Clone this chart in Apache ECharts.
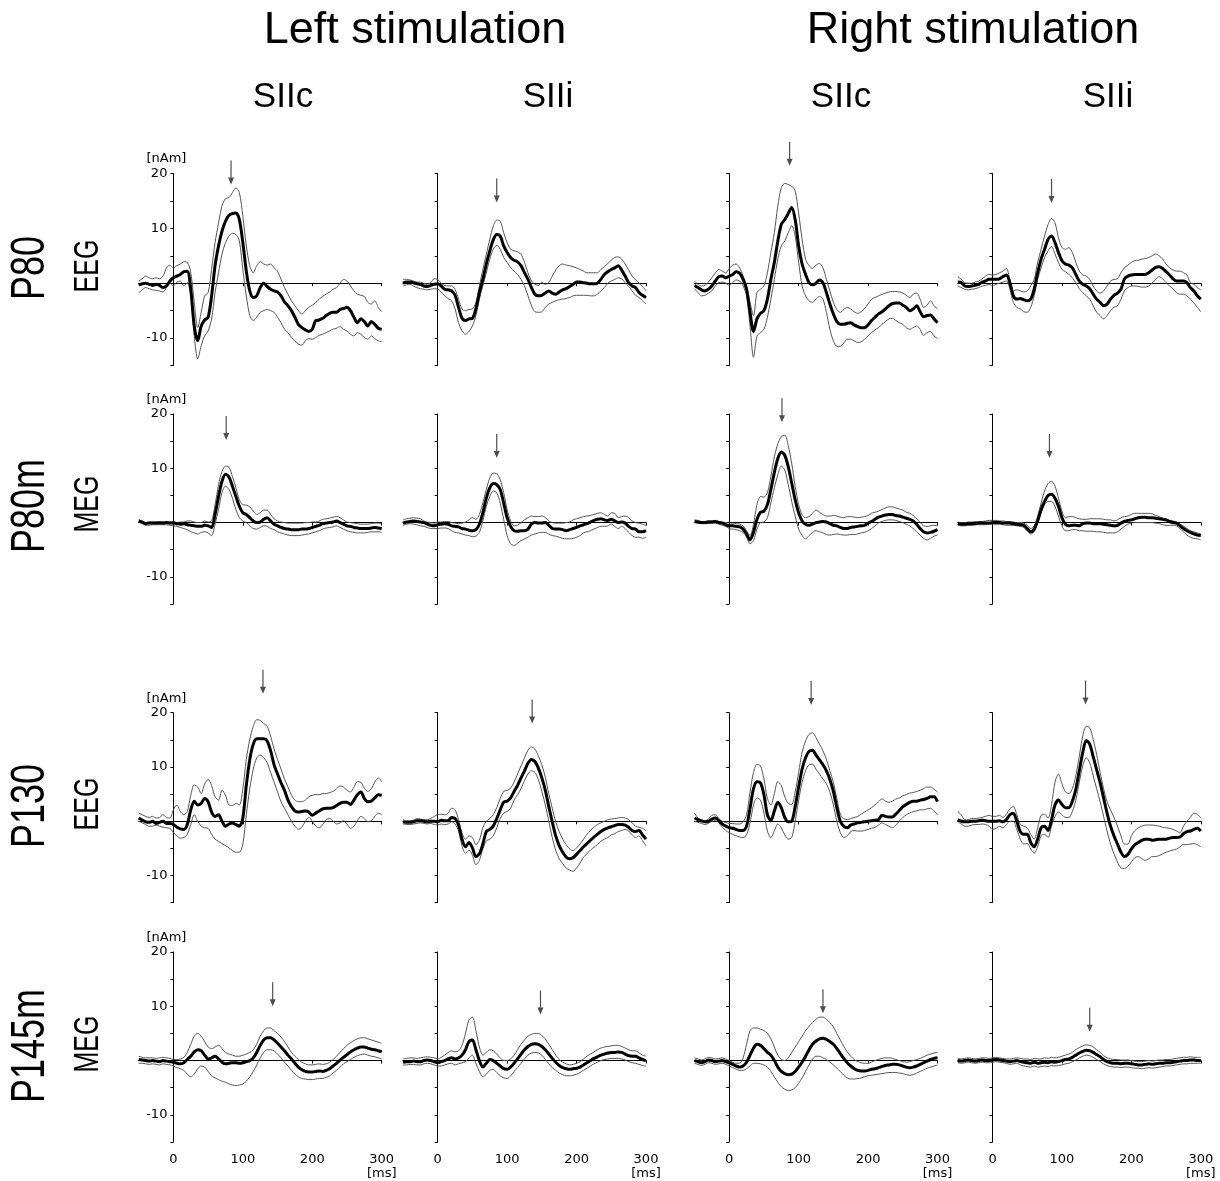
<!DOCTYPE html>
<html><head><meta charset="utf-8">
<script src="https://cdn.jsdelivr.net/npm/echarts@6/dist/echarts.min.js"></script>
<style>html,body{margin:0;padding:0;background:#fff}#c{width:1220px;height:1181px}</style>
</head><body><div id="c"></div>
<script>
// time axis (ms)
const times = [-50,-45,-40,-35,-30,-25,-20,-15,-10,-5,0,5,10,15,20,25,30,35,40,45,50,55,60,65,70,75,80,85,90,95,100,105,110,115,120,125,130,135,140,145,150,155,160,165,170,175,180,185,190,195,200,205,210,215,220,225,230,235,240,245,250,255,260,265,270,275,280,285,290,295,300];
const xTickValues = [0,100,200,300];
const yLabelValues = [20,10,-10];
const colTitles = ['SIIc','SIIi','SIIc','SIIi'];
const groupTitles = ['Left stimulation','Right stimulation'];
const rowNames = ['P80','P80m','P130','P145m'];
const rowModes = ['EEG','MEG','EEG','MEG'];

// Row 1: P80 EEG
const r1c1_mean = [-0.3,-0.1,0,-0.2,-0.4,-0.2,-0.4,-0.8,-0.5,0.4,1.0,1.3,1.6,2.1,2.2,-1.1,-7.8,-10.5,-7.8,-6.7,-6.2,-2.3,3.2,6.8,9.5,11.3,12.4,12.7,12.8,11.6,7.4,2.2,-1.4,-2.6,-2.3,-0.8,0,-0.6,-1.1,-1.4,-1.6,-2.3,-3.4,-4.1,-5.0,-6.2,-7.5,-8.1,-8.5,-8.8,-8.4,-6.8,-6.7,-6.4,-5.9,-5.5,-5.3,-5.3,-4.8,-4.6,-4.4,-5.0,-6.2,-7.2,-6.5,-7.0,-7.8,-7.0,-7.5,-8.2,-8.4];
const r1c1_upper = [0.4,0.8,1.3,1.0,0.8,1.0,0.8,1.3,2.8,3.3,2.8,3.2,3.5,3.9,3.8,1.9,-3.5,-8.1,-5.3,-2.3,-1.7,2.5,7.4,11.0,14.1,15.4,15.6,16.5,17.4,16.5,12.2,6.8,3.2,1.9,3.2,3.9,3.5,3.3,3.5,2.8,2.2,0.7,-0.8,-2.0,-3.2,-4.1,-5.0,-5.6,-5.0,-4.4,-4.0,-3.5,-2.9,-2.4,-2.0,-1.6,-1.1,-0.8,0,0.7,0.4,-0.5,-1.4,-2.0,-2.2,-2.4,-3.5,-3.8,-3.2,-4.4,-5.2];
const r1c1_lower = [-1.8,-1.2,-0.8,-1.0,-1.2,-1.3,-1.4,-1.6,-0.8,0,-0.5,0.2,0.4,-0.5,0.1,-2.3,-9.6,-13.8,-11.4,-9.6,-8.7,-6.5,-1.7,1.9,5.3,7.4,8.6,9.1,8.9,7.7,2.5,-2.3,-5.9,-6.8,-6.2,-5.3,-5.0,-4.8,-5.0,-5.3,-6.2,-7.2,-8.4,-9.0,-9.9,-10.5,-11.1,-11.3,-10.5,-10.1,-10.2,-9.9,-9.5,-9.3,-9.0,-8.7,-8.4,-8.2,-7.9,-8.4,-8.7,-9.3,-9.6,-9.0,-9.3,-9.9,-10.2,-9.6,-10.1,-10.5,-10.7];

const r1c2_mean = [0,0.2,0.2,0.1,-0.1,-0.2,-0.5,-0.6,-0.4,-0.2,-0.1,-0.5,-1.1,-1.2,-1.4,-2.2,-4.4,-6.4,-6.8,-6.5,-6.4,-4.7,-1.7,0.7,3.5,5.9,7.9,8.9,8.6,6.8,5.6,4.7,4.2,3.9,3.2,1.9,0.7,-0.8,-2.0,-2.3,-2.2,-1.8,-1.4,-1.8,-2.0,-1.6,-1.2,-1.0,-0.6,-0.2,0.2,0.2,0.1,0,-0.1,-0.1,0,0.7,1.6,2.1,2.5,2.8,3.2,2.4,1.3,0.1,-0.5,-0.8,-1.7,-2.2,-2.6];
const r1c2_upper = [0.7,0.7,0.6,0.4,0.2,0.2,0,-0.2,0.1,0.8,0.7,0,-0.4,-0.5,-0.5,-1.1,-2.9,-4.7,-5.0,-4.8,-4.7,-3.5,-0.5,2.5,5.3,8.0,10.4,11.5,11.3,9.2,7.4,6.2,5.9,5.7,5.3,3.8,1.9,0.4,-0.2,-0.4,0.2,-0.2,0.1,1.3,2.4,3.2,3.5,3.3,3.2,3.0,2.8,2.5,2.2,1.9,1.9,1.9,1.9,2.5,3.0,3.6,4.2,4.7,4.8,4.4,3.5,2.4,1.3,0.6,0,-0.6,-1.4];
const r1c2_lower = [-0.5,-0.3,-0.2,-0.5,-0.8,-1.0,-1.1,-1.2,-1.1,-1.0,-1.1,-1.6,-2.3,-2.8,-3.2,-4.7,-7.2,-8.7,-9.3,-8.8,-7.8,-5.9,-2.9,-0.5,1.9,4.4,6.2,6.9,6.2,4.7,3.8,2.8,2.2,1.6,0.7,-0.5,-2.3,-4.1,-5.2,-5.3,-5.2,-4.4,-3.8,-3.5,-3.2,-3.0,-2.9,-2.8,-2.6,-2.3,-2.2,-2.2,-2.2,-2.2,-2.3,-2.3,-2.0,-1.4,-0.8,0,0.4,0.7,1.0,0.8,0.1,-0.6,-1.4,-2.2,-2.6,-3.2,-3.8];

const r1c3_mean = [-0.4,-0.8,-1.2,-1.4,-1.1,-0.5,0.4,1.2,1.3,1.0,1.3,1.6,2.1,1.8,0.7,-1.1,-5.3,-8.8,-6.5,-5.5,-5.0,-2.9,0.7,3.8,7.7,10.7,11.6,12.7,13.8,11.6,6.8,3.5,1.6,0.1,-0.3,0,0.6,0.1,-1.7,-3.8,-5.6,-7.0,-7.5,-7.5,-7.3,-7.2,-7.6,-7.9,-8.1,-8.1,-7.6,-6.8,-6.2,-5.6,-5.2,-4.7,-4.1,-3.7,-3.6,-3.6,-4.0,-4.4,-5.0,-4.7,-4.1,-5.2,-6.1,-5.9,-5.8,-6.5,-7.2];
const r1c3_upper = [0.4,-0.2,-0.5,-0.4,0.2,1.0,1.9,2.5,2.2,1.9,2.7,3.3,3.5,2.8,1.3,-0.5,-3.5,-5.9,-1.7,-1.1,-0.5,1.9,5.6,9.2,14.1,17.4,18.2,18.0,17.7,16.8,12.8,8.0,4.4,3.2,2.7,3.3,3.6,2.8,0.7,-1.4,-3.5,-4.8,-5.3,-4.8,-4.4,-4.7,-5.2,-5.5,-5.2,-4.6,-3.8,-2.9,-2.6,-2.3,-2.0,-1.8,-1.6,-1.5,-1.5,-1.6,-1.8,-2.2,-2.6,-2.0,-1.8,-2.9,-4.4,-4.0,-3.2,-4.1,-4.7];
const r1c3_lower = [-1.0,-1.7,-2.3,-2.2,-1.8,-1.4,-0.5,0.1,0.2,0,-0.4,0.1,0.6,0.4,-0.5,-2.3,-7.8,-13.5,-9.6,-9.0,-8.4,-6.2,-2.9,0.7,4.4,6.8,7.7,9.2,10.5,8.6,3.8,-0.5,-2.3,-3.2,-3.5,-2.9,-2.4,-2.9,-5.3,-8.4,-10.5,-11.5,-11.5,-10.9,-10.2,-10.2,-10.5,-10.8,-10.7,-10.2,-9.6,-9.0,-8.5,-8.1,-7.5,-7.0,-6.5,-6.4,-6.8,-7.2,-7.5,-8.1,-8.4,-8.1,-7.8,-8.4,-9.5,-9.0,-8.8,-9.6,-10.1];

const r1c4_mean = [0.2,0.1,-0.5,-0.6,-0.5,-0.4,-0.2,0.2,0.4,0.7,0.7,0.7,0.8,1.2,1.5,0.1,-2.3,-2.9,-2.8,-3.0,-3.2,-2.9,-1.1,1.9,4.4,6.2,8.0,8.6,7.4,5.6,4.1,3.5,3.3,2.8,1.6,0.4,-0.2,-0.5,-1.0,-2.0,-2.9,-3.5,-4.1,-3.8,-2.9,-2.2,-1.8,-1.1,0.8,1.3,1.5,1.6,1.6,1.6,1.6,1.9,2.4,2.9,3.0,2.7,2.1,1.5,0.8,0.4,0.4,0.4,0.1,-0.8,-1.4,-2.3,-2.9];
const r1c4_upper = [1.2,0.7,0.1,0,0,0.2,0.4,0.8,1.3,1.6,1.5,1.6,1.9,2.2,2.7,0.7,-1.4,-1.2,-1.4,-1.6,-1.4,-0.5,0.7,3.8,6.2,8.6,10.7,11.8,11.0,8.3,6.5,6.2,6.5,5.6,3.8,2.2,1.5,1.3,0.7,-0.5,-1.4,-1.8,-1.4,-0.5,0.4,0.7,0.8,1.9,2.8,3.3,3.8,4.1,4.2,4.4,4.5,4.7,5.0,5.3,5.0,4.4,3.5,2.8,2.4,2.2,2.2,1.9,1.5,0.1,-0.2,-0.8,-1.2];
const r1c4_lower = [-0.5,-0.8,-1.1,-1.2,-1.1,-1.0,-0.8,-0.5,-0.4,-0.2,-0.5,-0.2,0,0.2,0.4,-1.1,-3.5,-4.4,-4.7,-5.2,-5.3,-4.4,-2.3,0.7,2.8,4.7,5.9,6.7,5.3,3.8,2.5,2.1,1.6,1.0,0.1,-1.0,-1.7,-2.3,-2.9,-4.1,-5.3,-5.9,-6.5,-5.9,-5.0,-4.4,-4.1,-2.9,-1.4,-0.8,-0.5,-0.5,-0.6,-0.7,-0.7,-0.5,0,0.7,1.2,0.8,0.1,-0.5,-1.0,-1.7,-2.0,-2.0,-2.3,-2.9,-3.6,-4.4,-5.2];

// Row 2: P80m MEG
const r2c1_mean = [0.3,0.1,-0.2,-0.1,-0.1,-0.1,-0.1,-0.1,0,-0.1,-0.1,-0.2,-0.3,-0.2,-0.4,-0.5,-0.6,-0.7,-0.7,-0.5,-0.6,-0.9,1.5,4.8,7.6,8.9,8.4,6.7,4.8,3.0,1.8,1.5,0.9,0.3,0,0.1,0.6,0.9,0.3,-0.3,-0.6,-0.9,-1.1,-1.2,-1.3,-1.3,-1.3,-1.2,-1.2,-1.1,-0.9,-0.7,-0.5,-0.2,-0.1,0,0.1,0.3,0,-0.3,-0.6,-0.7,-0.9,-1.0,-1.1,-1.1,-1.1,-1.0,-0.9,-1.0,-1.1];
const r2c1_upper = [0.5,0.3,0,0.1,0.1,0.1,0.2,0.1,0.2,0.1,0.2,0,0.1,0.1,0.3,0.3,0.1,0,0,0.3,0.1,0.3,3.3,7.0,9.4,10.4,10.2,8.5,6.4,4.2,3.3,3.2,2.9,2.1,1.5,1.8,2.3,2.3,1.5,0.7,0.3,0.1,0,-0.1,-0.1,-0.1,-0.1,-0.1,0,0,0.1,0.1,0.3,0.6,0.7,0.8,1.0,1.1,0.9,0.5,0.1,0,-0.1,-0.2,-0.3,-0.3,-0.3,-0.2,-0.1,-0.1,-0.3];
const r2c1_lower = [0.1,-0.2,-0.5,-0.5,-0.4,-0.4,-0.4,-0.4,-0.4,-0.5,-0.6,-0.7,-0.9,-1.1,-1.3,-1.7,-1.9,-2.1,-1.8,-1.7,-1.9,-2.4,-0.3,2.4,5.5,6.7,6.1,4.5,2.4,0.9,0.3,0,-0.6,-1.1,-1.2,-0.9,-0.6,-0.7,-1.1,-1.3,-1.7,-1.9,-2.1,-2.3,-2.4,-2.4,-2.4,-2.3,-2.2,-2.1,-1.9,-1.7,-1.5,-1.2,-1.0,-0.9,-0.8,-0.6,-0.9,-1.2,-1.5,-1.7,-1.8,-1.9,-1.9,-1.9,-1.8,-1.7,-1.7,-1.7,-1.8];

const r2c2_mean = [-0.1,0.1,0.2,0.3,0.2,0.1,0,-0.3,-0.5,-0.6,-0.4,-0.3,-0.2,-0.3,-0.6,-0.7,-0.8,-1.1,-1.2,-1.4,-1.5,-1.3,-0.3,1.8,4.5,6.4,7.2,7.0,6.1,3.6,0.9,-0.7,-1.5,-1.6,-1.5,-1.5,-1.2,-0.3,0,-0.1,-0.1,0,-0.5,-1.1,-1.2,-1.2,-1.3,-1.5,-1.3,-1.1,-0.9,-0.6,-0.4,-0.2,0.1,0.4,0.6,0.7,0.5,0.4,0.6,0.3,0,0.1,-0.1,-0.7,-1.1,-1.2,-1.7,-1.7,-1.5];
const r2c2_upper = [0.5,0.7,0.8,0.9,0.8,0.7,0.3,0.1,0,-0.1,0.1,0.1,0.2,0.2,0,-0.1,-0.2,-0.1,0.1,0.5,0.9,0.6,1.5,3.6,6.1,8.2,9.1,9.0,7.9,5.5,2.4,0.3,-0.6,-0.5,0,0.5,0.9,1.2,1.1,1.1,1.2,0.9,0.3,0,-0.1,-0.1,-0.1,0,0.1,0.5,0.7,0.9,1.1,1.2,1.3,1.5,1.7,1.8,1.5,1.2,1.8,1.7,0.9,1.1,1.2,0.9,0.3,0,-0.1,-0.3,-0.5];
const r2c2_lower = [-0.5,-0.3,-0.2,-0.3,-0.4,-0.6,-0.7,-0.9,-1.1,-1.1,-1.1,-1.0,-1.0,-1.1,-1.5,-1.8,-1.9,-2.1,-2.3,-2.4,-2.6,-2.5,-1.8,0.3,3.0,4.8,5.8,5.5,3.6,0.6,-2.4,-3.9,-4.2,-3.8,-3.3,-3.0,-2.7,-2.3,-2.1,-1.9,-1.8,-1.8,-2.1,-2.4,-2.5,-2.7,-2.9,-3.0,-3.0,-2.9,-2.7,-2.4,-1.9,-1.7,-1.5,-1.2,-0.9,-0.7,-0.7,-0.6,-0.3,-0.7,-1.1,-0.7,-1.1,-1.8,-2.4,-2.7,-2.7,-2.9,-2.7];

const r2c3_mean = [0.2,0.1,0,0,0.1,0.1,0.2,0,-0.1,-0.4,-0.6,-0.6,-0.7,-0.8,-1.2,-2.1,-3.2,-1.8,0.6,1.9,2.1,3.3,6.1,9.2,11.8,13.0,12.4,10.3,7.3,4.2,1.8,0.3,-0.3,-0.5,-0.3,0,0.1,0.2,0.1,-0.2,-0.5,-0.6,-0.9,-1.1,-1.1,-0.9,-0.8,-0.7,-0.6,-0.5,-0.1,0.2,0.6,1.0,1.2,1.4,1.5,1.5,1.3,1.2,1.0,0.8,0.6,0.3,-0.3,-1.1,-1.7,-1.9,-1.8,-1.6,-1.3];
const r2c3_upper = [0.5,0.4,0.2,0.2,0.3,0.3,0.4,0.2,0.1,0,-0.1,-0.1,-0.2,-0.3,-0.6,-1.5,-2.4,-0.3,3.3,4.8,4.7,5.5,8.5,12.1,14.5,15.8,16.1,14.2,10.9,6.7,3.3,1.5,0.9,1.1,1.7,2.3,1.9,1.5,1.2,1.2,1.3,1.2,1.0,0.9,1.1,1.1,1.0,0.9,1.0,1.1,1.3,1.7,1.9,2.1,2.4,2.7,2.9,2.9,2.7,2.5,2.3,1.9,1.7,1.3,0.7,0,-0.6,-0.7,-0.6,-0.5,-0.6];
const r2c3_lower = [0,-0.1,-0.2,-0.2,-0.2,-0.1,-0.1,-0.3,-0.5,-0.7,-1.1,-1.2,-1.3,-1.5,-1.8,-2.7,-3.9,-3.3,-1.2,0,0.1,0.9,3.6,6.4,8.8,10.4,9.7,7.0,3.9,1.2,-1.2,-2.4,-3.0,-2.4,-1.8,-1.5,-1.7,-1.9,-2.2,-2.3,-2.2,-2.1,-2.2,-2.3,-2.3,-2.2,-2.2,-2.1,-1.9,-1.8,-1.5,-1.1,-0.6,-0.1,0.2,0.4,0.5,0.5,0.4,0.2,0,-0.3,-0.6,-1.1,-1.7,-2.3,-2.9,-3.2,-2.9,-2.5,-2.3];

const r2c4_mean = [-0.2,-0.3,-0.3,-0.2,-0.2,-0.2,-0.1,-0.1,-0.1,-0.1,0,0,0,-0.1,-0.1,-0.1,-0.2,-0.3,-0.4,-0.5,-1.1,-1.7,-1.2,0.3,2.4,3.9,5.0,5.2,4.5,3.0,0.9,-0.3,-0.6,-0.5,-0.5,-0.6,-0.2,-0.1,-0.1,-0.2,-0.2,-0.2,-0.3,-0.4,-0.5,-0.6,-0.5,-0.1,0.2,0.4,0.5,0.7,0.9,1.0,1.0,0.9,0.9,0.8,0.7,0.6,0.5,0.2,0,-0.1,-0.6,-1.1,-1.5,-1.8,-2.1,-2.3,-2.4];
const r2c4_upper = [0.1,0,0,0.1,0.1,0.2,0.2,0.2,0.3,0.4,0.4,0.4,0.3,0.3,0.2,0.2,0.1,0,0,-0.1,-0.5,-1.1,-0.6,1.2,3.6,5.8,7.2,7.6,6.7,4.5,2.1,0.9,1.1,1.1,0.9,0.7,0.6,0.6,0.7,0.7,0.7,0.7,0.6,0.5,0.5,0.3,0.5,0.9,1.1,1.2,1.5,1.7,1.7,1.7,1.7,1.7,1.6,1.3,1.1,0.8,0.6,0.4,0.3,0.1,-0.3,-0.6,-1.1,-1.5,-1.7,-1.9,-2.1];
const r2c4_lower = [-0.5,-0.6,-0.6,-0.5,-0.5,-0.4,-0.4,-0.4,-0.4,-0.3,-0.3,-0.3,-0.3,-0.4,-0.5,-0.5,-0.5,-0.6,-0.7,-0.9,-1.5,-2.1,-1.7,0,1.8,3.3,3.9,3.9,3.0,1.2,-0.6,-1.5,-1.5,-1.3,-1.3,-1.5,-1.5,-1.6,-1.6,-1.6,-1.7,-1.7,-1.8,-1.9,-1.9,-1.9,-1.7,-1.2,-0.7,-0.3,-0.1,0,0,0,0,0,0,-0.1,-0.2,-0.4,-0.5,-0.5,-0.5,-0.6,-1.1,-1.7,-2.3,-2.7,-2.9,-3.0,-3.2];

// Row 3: P130 EEG
const r3c1_mean = [0.6,0.2,-0.1,-0.2,0,-0.4,-0.2,0,-0.4,-0.4,-0.6,-1.1,-1.4,-1.5,-0.6,2.1,3.7,3.0,3.3,4.2,3.6,1.7,0.9,1.2,0,-0.9,-0.5,-0.3,-0.6,-0.9,0.6,6.6,11.4,14.2,15.2,15.2,15.2,14.8,13.0,10.4,8.7,7.1,5.7,3.9,2.7,1.9,1.7,1.8,1.9,1.7,1.1,1.5,1.9,2.3,2.4,2.4,2.5,2.9,3.3,3.5,3.5,3.1,3.9,4.9,5.4,4.2,3.6,3.7,4.3,4.9,4.8];
const r3c1_upper = [1.5,1.2,0.9,0.7,0.9,0.6,0.7,1.2,0.7,0.6,2.1,3.0,1.8,1.2,1.8,4.8,6.7,6.3,5.1,6.9,7.7,6.6,4.5,3.9,5.7,4.8,3.0,2.9,3.3,3.0,6.0,11.4,15.1,17.5,18.7,18.6,18.0,17.5,15.7,13.3,11.4,9.6,7.8,6.3,4.8,3.9,3.6,3.6,3.9,4.5,4.8,4.9,4.9,5.1,5.1,5.3,5.5,6.0,6.5,6.3,5.7,5.4,6.3,7.3,7.2,6.1,5.5,6.0,7.2,8.0,7.3];
const r3c1_lower = [0,-0.3,-0.6,-0.9,-0.9,-0.7,-0.9,-1.1,-1.2,-1.3,-2.1,-2.7,-3.1,-3.0,-2.4,-0.6,1.2,0,-0.9,-1.2,-1.3,-2.4,-3.3,-3.7,-4.1,-4.5,-4.9,-5.4,-5.7,-5.7,-4.2,1.2,6.0,9.6,11.7,12.2,11.7,10.8,9.0,7.2,5.4,3.6,2.4,1.2,0,-0.9,-1.5,-1.1,0,0.7,0,-0.9,-1.2,-0.6,0.3,0.5,0,-0.5,-0.3,0.1,-0.5,-1.3,-0.9,0.1,0.9,0.5,-0.1,0.1,0.9,1.5,1.2];

const r3c2_mean = [-0.1,-0.2,-0.2,-0.1,0.1,0.1,0,-0.1,0,0,-0.1,0.2,0.1,0.1,0.7,0.5,-0.7,-3.3,-4.7,-3.9,-4.9,-6.5,-6.0,-4.2,-1.9,-1.5,-0.9,0.5,2.1,3.5,3.7,4.3,5.5,6.6,8.0,9.3,10.7,11.4,11.0,9.8,8.0,5.7,2.7,-0.1,-2.7,-4.5,-5.7,-6.6,-6.9,-6.7,-6.1,-5.4,-4.7,-4.1,-3.5,-2.9,-2.4,-1.9,-1.5,-1.2,-1.0,-0.8,-0.6,-0.6,-0.7,-1.1,-1.7,-1.9,-1.7,-2.5,-3.3];
const r3c2_upper = [0.3,0.1,0.1,0.2,0.5,0.4,0.3,0.3,0.5,0.9,1.2,1.3,1.2,1.5,2.4,2.1,0.3,-2.1,-3.3,-2.7,-3.0,-4.3,-3.5,-1.2,0,0.5,1.2,2.5,4.2,5.5,5.7,6.1,7.2,8.7,10.2,11.7,13.1,13.7,13.3,12.0,10.4,8.1,5.1,2.4,-0.1,-1.9,-3.3,-4.3,-5.1,-5.4,-4.9,-4.2,-3.3,-2.4,-1.7,-1.1,-0.6,-0.3,0,0.3,0.4,0.5,0.6,0.7,0.6,0.3,-0.3,-0.9,-1.1,-1.3,-1.7];
const r3c2_lower = [-0.5,-0.6,-0.6,-0.5,-0.4,-0.3,-0.4,-0.5,-0.4,-0.6,-0.7,-0.5,-0.6,-0.5,-0.1,-0.5,-1.8,-4.5,-5.9,-5.3,-6.3,-8.0,-7.2,-5.1,-3.6,-3.3,-2.7,-1.2,0.5,1.5,1.8,2.4,3.9,4.9,6.0,7.5,8.7,9.3,9.0,7.7,5.5,3.0,0,-3.0,-5.4,-6.9,-7.8,-8.6,-9.0,-9.2,-8.6,-7.7,-6.6,-6.0,-5.3,-4.8,-4.3,-3.7,-3.3,-3.0,-2.5,-2.3,-1.9,-1.7,-1.5,-1.8,-2.5,-3.0,-2.7,-3.6,-4.5];

const r3c3_mean = [0.6,0.3,0.1,-0.1,0,0.4,0.6,0.1,-0.5,-0.9,-1.2,-1.3,-1.5,-1.7,-1.7,-0.9,2.4,6.0,7.3,7.1,4.9,1.2,0.1,1.9,3.5,2.5,0.7,-0.1,0,2.7,6.3,9.6,11.7,12.9,13.1,12.2,11.3,10.4,9.3,7.7,5.5,2.5,0,-0.9,-1.2,-0.7,-0.5,-0.3,-0.2,-0.1,0,0.1,0.2,0.3,1.1,0.9,0.8,0.8,1.3,2.0,2.7,3.1,3.5,3.7,3.7,3.9,4.0,4.2,4.5,4.5,3.6];
const r3c3_upper = [1.5,0.6,0.2,0.1,0.4,1.1,1.2,0.5,0,-0.2,-0.4,-0.4,-0.5,-0.5,-0.1,1.2,5.4,9.0,10.5,10.2,7.8,4.2,3.0,5.1,7.3,6.6,4.5,3.3,3.1,5.4,9.0,12.7,14.8,16.0,16.3,15.4,14.2,13.0,11.4,9.3,7.2,4.2,1.3,0.5,0.3,0.5,0.7,0.9,1.3,1.7,2.1,2.5,3.0,3.6,4.1,3.7,3.5,3.7,4.1,4.3,4.7,4.9,5.2,5.3,5.5,5.7,6.0,6.3,6.3,5.9,5.4];
const r3c3_lower = [0,-0.2,-0.4,-0.6,-0.4,0,0.1,-0.3,-1.1,-1.7,-2.1,-2.4,-2.7,-2.9,-3.0,-2.5,-0.3,3.0,4.3,3.9,1.5,-1.8,-3.0,-1.8,-0.5,-1.2,-2.5,-3.3,-3.0,0,3.9,7.2,9.3,10.4,10.5,9.6,8.7,7.8,6.9,5.4,3.0,0,-2.1,-3.0,-2.7,-1.9,-1.7,-1.8,-1.8,-1.7,-1.5,-1.3,-1.1,-0.7,-0.3,-0.6,-0.9,-1.2,-0.7,0,0.7,1.2,1.5,1.8,1.9,2.1,2.1,2.3,2.4,1.9,1.2];

const r3c4_mean = [0.3,0,-0.1,-0.1,0,0,0.1,0.2,0.1,0,0,0,0.1,-0.1,0.3,1.2,1.5,0,-1.9,-2.4,-2.4,-3.9,-4.7,-3.3,-1.2,-0.9,-1.7,0.3,3.0,3.9,3.1,2.5,2.5,3.7,5.9,9.3,12.7,14.9,14.2,11.9,9.5,7.1,4.3,1.5,-0.9,-2.7,-4.2,-5.7,-6.5,-6.1,-5.1,-4.3,-3.9,-3.5,-3.3,-3.3,-3.5,-3.4,-3.3,-3.3,-3.3,-3.1,-3.0,-3.0,-2.9,-2.3,-1.9,-1.8,-1.5,-1.3,-1.8];
const r3c4_upper = [1.8,1.2,0.3,0.3,0.5,0.5,0.6,0.7,0.9,1.1,0.9,0.9,1.1,0.7,1.3,2.3,2.7,1.2,-0.6,-0.9,-1.2,-2.4,-3.3,-1.2,1.1,1.3,0.6,3.0,7.2,8.7,6.9,5.4,5.1,6.0,8.4,12.0,15.7,17.5,17.2,15.1,12.3,9.0,6.0,3.6,2.1,0.7,-0.9,-2.7,-4.2,-4.2,-2.7,-1.7,-1.2,-0.9,-0.7,-0.7,-0.7,-0.8,-0.9,-1.1,-1.2,-1.3,-1.5,-1.8,-2.1,-0.9,0,0.7,1.5,1.3,0.6];
const r3c4_lower = [-0.1,-0.5,-0.9,-0.9,-0.7,-0.6,-0.6,-0.5,-0.6,-0.9,-1.5,-1.3,-0.9,-1.2,-0.6,0,0,-1.5,-3.3,-4.2,-4.1,-5.1,-5.9,-4.7,-2.7,-2.4,-3.0,-0.9,0.9,1.7,1.2,0.7,0.7,1.8,3.9,7.2,10.2,11.7,10.8,8.4,6.0,3.6,0.9,-1.8,-4.2,-6.0,-7.5,-8.6,-8.7,-8.3,-7.5,-6.7,-6.5,-6.9,-7.2,-6.9,-6.5,-6.5,-6.3,-6.0,-5.7,-5.5,-5.3,-5.1,-4.7,-4.3,-4.3,-4.2,-4.1,-4.3,-4.7];

// Row 4: P145m MEG
const r4c1_mean = [0.2,0.1,0,-0.1,0,-0.1,-0.2,0,-0.1,-0.2,-0.3,-0.5,-0.6,-0.4,0.2,0.8,1.6,2.0,1.8,1.0,0.3,0.5,0.8,0.3,-0.3,-0.6,-0.5,-0.4,-0.4,-0.5,-0.4,-0.2,0,0.5,1.5,2.8,3.8,4.2,4.2,3.8,3.2,2.5,1.8,1.0,0.3,-0.5,-1.2,-1.7,-2.0,-2.1,-2.1,-2.0,-1.9,-2.0,-1.8,-1.5,-1.0,-0.5,0.1,0.6,1.1,1.6,2.0,2.3,2.5,2.5,2.3,2.1,2.0,1.8,1.6];
const r4c1_upper = [0.8,0.6,0.5,0.5,0.5,0.4,0.5,0.6,0.5,0.4,0.2,0.2,0.3,0.6,1.5,3.0,4.5,5.0,4.5,3.5,2.5,2.2,2.5,2.8,2.2,1.5,1.2,1.0,0.8,0.8,1.0,1.2,1.5,2.0,3.0,4.5,5.5,6.0,6.0,5.5,5.0,4.3,3.5,2.5,1.5,0.8,0.2,-0.3,-0.6,-0.8,-0.8,-0.7,-0.6,-0.7,-0.6,-0.3,0.2,0.8,1.5,2.2,2.8,3.3,3.7,4.0,4.2,4.2,4.0,3.8,3.6,3.4,3.2];
const r4c1_lower = [-0.5,-0.5,-0.6,-0.7,-0.6,-0.7,-0.8,-0.6,-0.7,-0.8,-1.0,-1.3,-1.5,-1.8,-2.5,-3.0,-2.5,-1.5,-1.0,-1.2,-2.0,-2.8,-3.2,-3.5,-3.8,-4.0,-4.3,-4.5,-4.6,-4.5,-4.3,-3.8,-3.0,-2.0,-0.8,0.5,1.5,2.0,2.0,1.8,1.2,0.5,-0.3,-1.0,-1.8,-2.5,-3.0,-3.3,-3.4,-3.5,-3.5,-3.4,-3.3,-3.3,-3.1,-2.8,-2.3,-1.8,-1.2,-0.6,-0.2,0.2,0.6,0.9,1.1,1.2,1.0,0.8,0.7,0.5,0.3];

const r4c2_mean = [-0.3,-0.2,-0.2,-0.1,-0.2,-0.2,0,0.1,0,-0.2,-0.4,-0.2,0,0.3,0.5,0.3,0.5,1.0,2.0,3.5,3.8,2.0,0,-1.2,-0.5,0.2,0,-0.5,-1.0,-1.5,-1.6,-1.2,-0.5,0.3,1.2,2.0,2.6,3.0,3.1,3.0,2.6,2.0,1.2,0.4,-0.3,-0.9,-1.3,-1.5,-1.6,-1.5,-1.4,-1.2,-0.8,-0.4,0,0.4,0.7,1.0,1.2,1.4,1.5,1.5,1.6,1.5,1.2,0.9,0.8,0.8,0.5,0.2,0];
const r4c2_upper = [0.3,0.4,0.5,0.5,0.4,0.5,0.6,0.7,0.6,0.5,0.3,0.6,1.0,1.5,1.8,1.6,1.8,2.8,5.0,7.5,8.0,5.5,2.5,1.0,1.5,2.0,1.8,1.2,0.5,0,0,0.3,1.0,2.0,3.0,3.8,4.5,4.8,5.0,5.0,4.6,4.0,3.0,2.0,1.0,0.2,-0.3,-0.6,-0.8,-0.7,-0.5,-0.2,0.3,0.8,1.2,1.6,2.0,2.3,2.5,2.6,2.7,2.8,2.8,2.6,2.3,2.0,1.8,1.8,1.4,1.0,0.8];
const r4c2_lower = [-0.8,-0.8,-0.7,-0.7,-0.8,-0.8,-0.6,-0.5,-0.6,-0.8,-1.0,-1.0,-0.8,-0.6,-0.5,-0.8,-0.6,-0.4,-0.2,0.5,1.0,-0.5,-2.0,-3.0,-2.5,-1.8,-1.6,-2.2,-2.8,-3.2,-3.3,-2.8,-2.0,-1.3,-0.5,0.3,1.0,1.4,1.5,1.4,1.0,0.2,-0.6,-1.3,-1.8,-2.3,-2.6,-2.8,-2.8,-2.7,-2.5,-2.2,-1.8,-1.4,-1.0,-0.6,-0.3,0,0.2,0.3,0.4,0.4,0.4,0.3,0.1,-0.2,-0.4,-0.5,-0.7,-0.9,-1.0];

const r4c3_mean = [0,-0.2,-0.4,-0.2,0.1,0,-0.2,-0.1,0,-0.2,-0.4,-0.7,-1.0,-1.2,-1.0,-0.3,1.0,2.3,3.0,2.8,2.2,1.5,1.0,0,-1.2,-2.0,-2.4,-2.6,-2.5,-2.0,-1.2,-0.3,0.8,2.0,3.0,3.6,4.0,4.1,3.9,3.5,3.0,2.2,1.3,0.4,-0.4,-1.0,-1.5,-1.8,-1.9,-1.9,-1.8,-1.6,-1.5,-1.3,-1.1,-0.9,-0.8,-0.7,-0.7,-0.8,-1.0,-1.2,-1.3,-1.2,-1.0,-0.7,-0.4,-0.1,0.2,0.4,0.5];
const r4c3_upper = [0.5,0.3,0.1,0.3,0.6,0.5,0.3,0.4,0.5,0.3,0,-0.3,-0.5,-0.5,0.5,3.0,5.5,6.0,6.0,5.8,5.5,5.0,4.0,2.5,1.0,0.2,0,0.5,1.5,2.5,3.5,4.5,5.5,6.3,7.0,7.6,8.0,8.0,7.6,7.0,6.2,5.0,3.8,2.6,1.6,0.8,0.2,-0.2,-0.4,-0.5,-0.5,-0.3,0,0.2,0.4,0.5,0.5,0.4,0.2,0,-0.2,-0.3,-0.2,0,0.2,0.4,0.7,1.0,1.2,1.4,1.5];
const r4c3_lower = [-0.5,-0.7,-0.9,-0.7,-0.4,-0.5,-0.7,-0.6,-0.5,-0.7,-1.0,-1.3,-1.6,-1.8,-1.8,-1.5,-1.0,-0.5,-0.5,-0.6,-0.8,-1.2,-2.0,-3.0,-4.0,-4.8,-5.3,-5.5,-5.4,-5.0,-4.2,-3.2,-2.0,-0.8,0.3,0.8,0.8,0.5,0.2,-0.3,-0.8,-1.4,-2.0,-2.7,-3.2,-3.4,-3.4,-3.3,-3.2,-3.0,-2.8,-2.7,-2.6,-2.5,-2.4,-2.3,-2.2,-2.2,-2.2,-2.3,-2.4,-2.6,-2.7,-2.6,-2.3,-2.0,-1.7,-1.4,-1.2,-1.0,-0.8];

const r4c4_mean = [0,-0.1,0,0.1,0,-0.1,0,0.1,0,0,0.1,0.2,0.1,0,-0.1,-0.2,-0.1,0,-0.2,-0.3,-0.4,-0.5,-0.3,-0.5,-0.4,-0.3,-0.4,-0.2,-0.3,-0.2,0,0.2,0.3,0.6,1.0,1.4,1.7,1.9,1.8,1.5,1.1,0.7,0.2,-0.2,-0.4,-0.5,-0.5,-0.6,-0.5,-0.5,-0.6,-0.7,-0.8,-0.8,-0.7,-0.6,-0.7,-0.6,-0.5,-0.5,-0.4,-0.4,-0.3,-0.2,-0.1,0,0,0.1,0.1,0,0];
const r4c4_upper = [0.4,0.3,0.4,0.5,0.4,0.3,0.4,0.5,0.5,0.4,0.5,0.6,0.5,0.4,0.3,0.3,0.4,0.5,0.4,0.3,0.3,0.2,0.4,0.3,0.3,0.5,0.4,0.6,0.5,0.6,0.8,1.0,1.2,1.5,2.0,2.4,2.7,2.9,2.8,2.5,2.0,1.5,0.9,0.5,0.3,0.2,0.2,0.1,0.1,0.1,0,-0.1,-0.2,-0.2,-0.1,0,-0.1,0,0.1,0.1,0.2,0.2,0.3,0.4,0.5,0.6,0.6,0.7,0.6,0.6,0.6];
const r4c4_lower = [-0.4,-0.5,-0.4,-0.3,-0.4,-0.5,-0.4,-0.3,-0.4,-0.4,-0.3,-0.2,-0.3,-0.4,-0.5,-0.7,-0.6,-0.5,-0.8,-1.0,-1.1,-1.2,-1.0,-1.2,-1.1,-1.0,-1.1,-0.9,-1.0,-0.9,-0.8,-0.6,-0.5,-0.2,0.1,0.5,0.8,1.0,0.9,0.6,0.2,-0.2,-0.6,-0.9,-1.1,-1.2,-1.2,-1.3,-1.2,-1.2,-1.3,-1.4,-1.4,-1.5,-1.4,-1.3,-1.4,-1.3,-1.2,-1.1,-1.0,-1.0,-0.9,-0.8,-0.7,-0.6,-0.6,-0.5,-0.5,-0.5,-0.5];

// peak arrows (ms, nAm at arrow tip), panel order row by row
const arrowX = [83,85,87,85, 76,85,76,82, 129,136,118,134, 143,148,135,140];
const arrowY = [18.0,14.7,21.4,14.6, 15.2,11.9,18.5,11.9, 23.5,18.0,21.4,21.5, 10.0,8.5,8.7,5.3];

const panels = [
  [r1c1_mean,r1c1_upper,r1c1_lower],[r1c2_mean,r1c2_upper,r1c2_lower],[r1c3_mean,r1c3_upper,r1c3_lower],[r1c4_mean,r1c4_upper,r1c4_lower],
  [r2c1_mean,r2c1_upper,r2c1_lower],[r2c2_mean,r2c2_upper,r2c2_lower],[r2c3_mean,r2c3_upper,r2c3_lower],[r2c4_mean,r2c4_upper,r2c4_lower],
  [r3c1_mean,r3c1_upper,r3c1_lower],[r3c2_mean,r3c2_upper,r3c2_lower],[r3c3_mean,r3c3_upper,r3c3_lower],[r3c4_mean,r3c4_upper,r3c4_lower],
  [r4c1_mean,r4c1_upper,r4c1_lower],[r4c2_mean,r4c2_upper,r4c2_lower],[r4c3_mean,r4c3_upper,r4c3_lower],[r4c4_mean,r4c4_upper,r4c4_lower]
];

// layout
const FONT = '"Liberation Sans", Arial, Helvetica, sans-serif';
const SMALL = '"DejaVu Sans", Verdana, sans-serif';
const gridLeft = [138.7, 403, 694.5, 957.8];
const gridTop = [173.5, 414, 712.7, 952];
const gridH = [192, 190, 190, 190];
const gridW = 243;
const zeroOffset = gridW * 50 / 350; // px from grid left to x = 0 ms

const grids = [], xAxes = [], yAxes = [], series = [];
const pts = arr => times.map((t, i) => [t, arr[i]]);
const arrowPath = 'path://M2.4,0 L3.6,0 L3.6,17 L6,17 L3,24 L0,17 L2.4,17 Z';

for (let r = 0; r < 4; r++) {
  for (let c = 0; c < 4; c++) {
    const k = r * 4 + c;
    grids.push({left: gridLeft[c], top: gridTop[r], width: gridW, height: gridH[r]});
    xAxes.push({
      gridIndex: k, type: 'value', min: -50, max: 300, position: 'bottom',
      axisLine: {show: true, onZero: true, lineStyle: {color: '#000', width: 1}},
      axisTick: {show: true, length: 3, customValues: xTickValues, lineStyle: {color: '#000', width: 1}},
      axisLabel: {show: false}, splitLine: {show: false}
    });
    yAxes.push({
      gridIndex: k, type: 'value', min: -15, max: 20, interval: 5,
      axisLine: {show: true, onZero: true, lineStyle: {color: '#000', width: 1}},
      axisTick: {show: true, length: 3, lineStyle: {color: '#000', width: 1}},
      axisLabel: {show: c === 0, margin: 6 - zeroOffset, fontSize: 13, color: '#000', fontFamily: SMALL,
        formatter: v => yLabelValues.indexOf(v) >= 0 ? String(v) : ''},
      splitLine: {show: false},
      name: c === 0 ? '[nAm]' : '', nameLocation: 'end', nameGap: 8,
      nameTextStyle: {fontSize: 13, color: '#000', fontFamily: SMALL, align: 'center', padding: [0, 14, 0, 0]}
    });
    const [m, u, l] = panels[k];
    series.push({type: 'line', xAxisIndex: k, yAxisIndex: k, data: pts(u), showSymbol: false, symbol: 'none', smooth: 0.3, silent: true, lineStyle: {color: '#555', width: 1}, z: 3});
    series.push({type: 'line', xAxisIndex: k, yAxisIndex: k, data: pts(l), showSymbol: false, symbol: 'none', smooth: 0.3, silent: true, lineStyle: {color: '#555', width: 1}, z: 3});
    series.push({type: 'line', xAxisIndex: k, yAxisIndex: k, data: pts(m), showSymbol: false, symbol: 'none', smooth: 0.3, silent: true, lineStyle: {color: '#000', width: 3}, z: 4});
    series.push({type: 'scatter', xAxisIndex: k, yAxisIndex: k, data: [[arrowX[k], arrowY[k]]], symbol: arrowPath, symbolSize: [6, 24], symbolOffset: [0, '-50%'], clip: false, silent: true, itemStyle: {color: '#222'}, z: 5});
  }
}
// bottom-row time labels
for (let c = 0; c < 4; c++) {
  xAxes.push({
    gridIndex: 12 + c, type: 'value', min: -50, max: 300, position: 'bottom',
    axisLine: {show: false, onZero: false}, axisTick: {show: false}, splitLine: {show: false},
    axisLabel: {show: true, customValues: xTickValues, margin: 11, fontSize: 13, color: '#000', fontFamily: SMALL, lineHeight: 14,
      formatter: v => v === 300 ? '300\n[ms]' : String(v)}
  });
}

const txt = (text, x, y, size, opts) => Object.assign({
  type: 'text', x: x, y: y, silent: true,
  style: {text: text, font: size + 'px ' + FONT, fill: '#000', align: 'center', verticalAlign: 'middle', textAlign: 'center', textVerticalAlign: 'middle'}
}, opts || {});

const graphic = [
  txt(groupTitles[0], 415, 31, 45),
  txt(groupTitles[1], 973, 31, 45),
  txt(colTitles[0], 283, 97, 35),
  txt(colTitles[1], 548, 97, 35),
  txt(colTitles[2], 841, 97, 35),
  txt(colTitles[3], 1108, 97, 35)
];
const rowCenters = [268, 506, 806, 1046];
for (let r = 0; r < 4; r++) {
  graphic.push(txt(rowNames[r], 31, rowCenters[r], 36, {rotation: Math.PI / 2, scaleY: 1.35}));
  graphic.push(txt(rowModes[r], 88, rowCenters[r] - 2, 25, {rotation: Math.PI / 2, scaleY: 1.4}));
}

const chart = echarts.init(document.getElementById('c'), null, {renderer: 'canvas'});
chart.setOption({
  animation: false,
  backgroundColor: '#fff',
  grid: grids, xAxis: xAxes, yAxis: yAxes, series: series, graphic: graphic
});
</script>
</body></html>
